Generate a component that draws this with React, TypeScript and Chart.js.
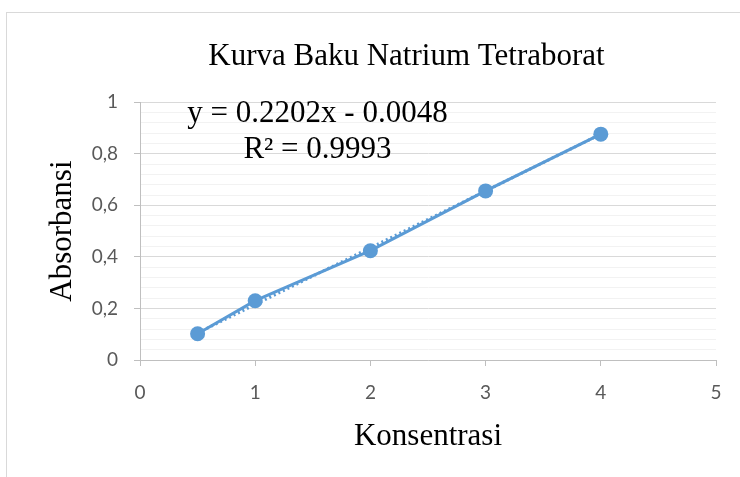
import { useEffect, useRef } from 'react';
import { Chart, registerables } from 'chart.js';

Chart.register(...registerables);

// ---- data ----
const xValues = [0.5, 1, 2, 3, 4];
const yValues = [0.102, 0.23, 0.424, 0.656, 0.876];
const trendX = [0.5, 4];
const trendY = [0.105, 0.876];
const equationLines = ['y = 0.2202x - 0.0048', 'R² = 0.9993'];
const titleText = 'Kurva Baku Natrium Tetraborat';
const xTitle = 'Konsentrasi';
const yTitle = 'Absorbansi';
const xRange = [0, 5];
const yRange = [0, 1];
const xStep = 1;
const yMinorStep = 0.04;
const yMajorStep = 0.2;

const SERIF = "'Liberation Serif', 'Times New Roman', serif";
const SANS = "Lato, 'Open Sans', sans-serif";
const BLUE = '#5b9bd5';

const isMajor = (v: number) => Math.round(v * 100) % Math.round(yMajorStep * 100) === 0;
const fmt = (v: number) => {
  const r = Math.round(v * 100) / 100;
  return String(r).replace('.', ',');
};

const equationPlugin = {
  id: 'equationLabel',
  afterDatasetsDraw(chart: any) {
    const { ctx, chartArea } = chart;
    ctx.save();
    ctx.font = `31px ${SERIF}`;
    ctx.fillStyle = '#000000';
    ctx.textAlign = 'center';
    ctx.textBaseline = 'alphabetic';
    const cx = chartArea.left + 177.5;
    ctx.fillText(equationLines[0], cx, chartArea.top + 20);
    ctx.fillText(equationLines[1], cx, chartArea.top + 56);
    ctx.restore();
  },
};

const titleShiftPlugin = {
  id: 'titleShift',
  afterLayout(chart: any) {
    if (chart.titleBlock) {
      chart.titleBlock.left = 97;
    }
  },
};

export default function App() {
  const ref = useRef<HTMLCanvasElement | null>(null);

  useEffect(() => {
    if (!ref.current) return;
    const chart = new Chart(ref.current, {
      type: 'scatter',
      data: {
        datasets: [
          {
            label: 'Absorbansi',
            data: xValues.map((x, i) => ({ x, y: yValues[i] })),
            showLine: true,
            borderColor: BLUE,
            backgroundColor: BLUE,
            borderWidth: 3,
            pointRadius: 7.5,
            pointHoverRadius: 7.5,
            pointBorderWidth: 0,
            order: 1,
          },
          {
            label: 'Trend',
            data: trendX.map((x, i) => ({ x, y: trendY[i] })),
            showLine: true,
            borderColor: BLUE,
            borderWidth: 3,
            borderDash: [2, 3],
            pointRadius: 0,
            order: 2,
          },
        ],
      },
      options: {
        animation: false,
        responsive: false,
        events: [],
        layout: { padding: { left: 0, right: 24, top: 0, bottom: 0 } },
        plugins: {
          legend: { display: false },
          tooltip: { enabled: false },
          title: {
            display: true,
            text: titleText,
            color: '#000000',
            font: { family: SERIF, size: 31, weight: 'normal', lineHeight: 1.2 },
            padding: { top: 38, bottom: 27 },
          },
        },
        scales: {
          x: {
            type: 'linear',
            min: xRange[0],
            max: xRange[1],
            ticks: {
              stepSize: xStep,
              autoSkip: false,
              maxRotation: 0,
              color: '#595959',
              font: { family: SANS, size: 19 },
              padding: 15,
            },
            grid: {
              drawOnChartArea: false,
              drawTicks: true,
              tickLength: 6,
              tickColor: '#bfbfbf',
            },
            border: { color: '#bfbfbf', width: 1 },
            title: {
              display: true,
              text: xTitle,
              color: '#000000',
              font: { family: SERIF, size: 31, weight: 'normal', lineHeight: 1.2 },
              padding: { top: 0, bottom: 22 },
            },
            afterFit(scale: any) {
              scale.height = 117;
            },
          },
          y: {
            type: 'linear',
            min: yRange[0],
            max: yRange[1],
            ticks: {
              stepSize: yMinorStep,
              autoSkip: false,
              color: '#595959',
              font: { family: SANS, size: 19 },
              padding: 16,
              callback: (v: any) => (isMajor(Number(v)) ? fmt(Number(v)) : ''),
            },
            grid: {
              drawTicks: true,
              tickLength: 6,
              color: (c: any) => (isMajor(c.tick ? c.tick.value : 0) ? '#d9d9d9' : '#f2f2f2'),
              tickColor: (c: any) => (isMajor(c.tick ? c.tick.value : 0) ? '#bfbfbf' : 'rgba(0,0,0,0)'),
              lineWidth: 1,
            },
            border: { color: '#bfbfbf', width: 1 },
            title: {
              display: true,
              text: yTitle,
              color: '#000000',
              font: { family: SERIF, size: 31, weight: 'normal', lineHeight: 1.2 },
              padding: { top: 44, bottom: 0 },
            },
            afterFit(scale: any) {
              scale.width = 140;
            },
          },
        },
      },
      plugins: [equationPlugin, titleShiftPlugin],
    });
    return () => chart.destroy();
  }, []);

  return (
    <div
      style={{
        position: 'fixed',
        left: 0,
        top: 0,
        width: 740,
        height: 477,
        overflow: 'hidden',
        background: '#ffffff',
      }}
    >
      <div
        style={{
          position: 'absolute',
          left: 6,
          top: 12,
          width: 900,
          height: 700,
          border: '1px solid #d9d9d9',
          boxSizing: 'border-box',
        }}
      />
      <canvas
        ref={ref}
        width={740}
        height={477}
        style={{ position: 'absolute', left: 0, top: 0, width: 740, height: 477 }}
      />
    </div>
  );
}
